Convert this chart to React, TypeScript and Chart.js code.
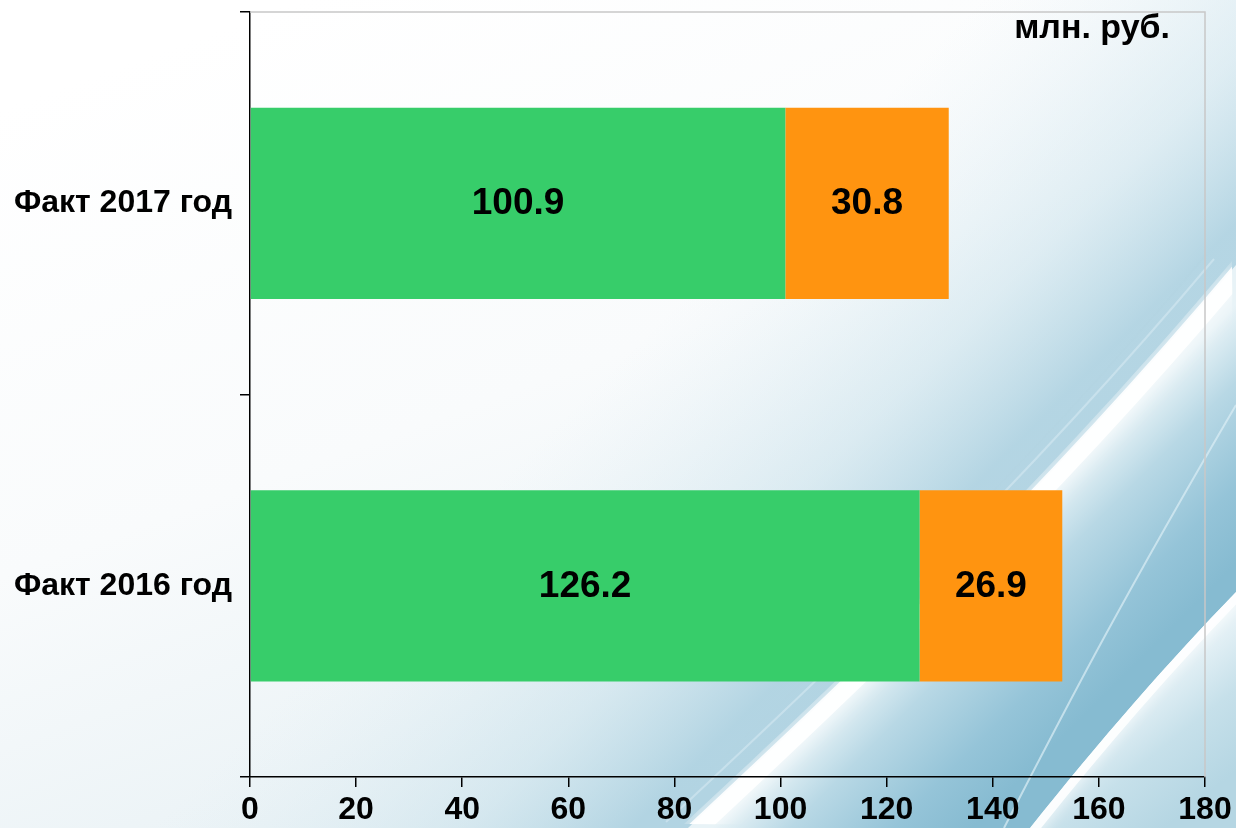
import React, { useEffect, useRef } from "react";
import { Chart, registerables } from "chart.js";

Chart.register(...registerables);

const categories = ["Факт 2017 год", "Факт 2016 год"];
const seriesGreen = [100.9, 126.2];
const seriesOrange = [30.8, 26.9];
const xMin = 0;
const xMax = 180;
const xStep = 20;
const unitLabel = "млн. руб.";

const FONT = "'Liberation Sans', Arial, sans-serif";

function mainCurve(ctx: CanvasRenderingContext2D, dx = 0, dy = 0) {
  ctx.moveTo(688 + dx, 828 + dy);
  ctx.bezierCurveTo(820 + dx, 705 + dy, 1030 + dx, 510 + dy, 1236 + dx, 265 + dy);
}

const backgroundPlugin = {
  id: "bgSwoosh",
  beforeDraw(chart: any) {
    const ctx = chart.ctx as CanvasRenderingContext2D;
    const w = chart.width;
    const h = chart.height;
    ctx.save();
    const g = ctx.createLinearGradient(300, 0, 600, h);
    g.addColorStop(0, "#ffffff");
    g.addColorStop(0.5, "#f9fbfc");
    g.addColorStop(1, "#e6f0f4");
    ctx.fillStyle = g;
    ctx.fillRect(0, 0, w, h);

    // soft haze approaching the main streak
    const hz = ctx.createLinearGradient(880, 580, 640, 340);
    hz.addColorStop(0, "rgba(165,205,222,0.8)");
    hz.addColorStop(0.35, "rgba(190,220,232,0.45)");
    hz.addColorStop(1, "rgba(220,236,243,0)");
    ctx.fillStyle = hz;
    ctx.fillRect(0, 0, w, h);

    // faint lines parallel left of streak
    ctx.save();
    ctx.strokeStyle = "rgba(225,240,246,0.45)";
    ctx.lineWidth = 2;
    ctx.beginPath();
    mainCurve(ctx, -22, -6);
    ctx.stroke();
    ctx.strokeStyle = "rgba(180,212,226,0.3)";
    ctx.beginPath();
    mainCurve(ctx, -30, -10);
    ctx.stroke();
    ctx.restore();

    // blue region right of main streak
    ctx.beginPath();
    mainCurve(ctx);
    ctx.lineTo(w, h);
    ctx.closePath();
    const bg2 = ctx.createLinearGradient(945, 595, 1075, 725);
    bg2.addColorStop(0, "#e8f3f7");
    bg2.addColorStop(0.3, "#b8d8e5");
    bg2.addColorStop(0.7, "#95c4d8");
    bg2.addColorStop(1, "#86bbd1");
    ctx.fillStyle = bg2;
    ctx.fill();

    // main white streak
    ctx.save();
    ctx.beginPath();
    mainCurve(ctx, -4, -4);
    ctx.lineTo(w, h);
    ctx.closePath();
    ctx.clip();
    ctx.shadowColor = "rgba(255,255,255,1)";
    ctx.shadowBlur = 22;
    ctx.strokeStyle = "rgba(255,255,255,0.9)";
    ctx.lineWidth = 18;
    ctx.beginPath();
    mainCurve(ctx, 5, 5);
    ctx.stroke();
    ctx.restore();

    // thin streak
    ctx.save();
    ctx.strokeStyle = "rgba(220,238,245,0.7)";
    ctx.lineWidth = 2;
    ctx.beginPath();
    ctx.moveTo(1004, h);
    ctx.bezierCurveTo(1060, 720, 1110, 620, w, 405);
    ctx.stroke();
    ctx.restore();

    // lower-right region beyond third streak
    ctx.save();
    ctx.beginPath();
    ctx.moveTo(1030, h);
    ctx.bezierCurveTo(1100, 740, 1170, 660, w, 592);
    ctx.lineTo(w, h);
    ctx.closePath();
    const bg3 = ctx.createLinearGradient(1120, 700, 1200, 800);
    bg3.addColorStop(0, "#eaf4f8");
    bg3.addColorStop(0.5, "#c6e0ea");
    bg3.addColorStop(1, "#b5d6e3");
    ctx.fillStyle = bg3;
    ctx.fill();
    ctx.clip();
    ctx.shadowColor = "rgba(255,255,255,1)";
    ctx.shadowBlur = 14;
    ctx.strokeStyle = "rgba(255,255,255,0.85)";
    ctx.lineWidth = 9;
    ctx.beginPath();
    ctx.moveTo(1033, h + 3);
    ctx.bezierCurveTo(1103, 743, 1173, 663, w + 3, 595);
    ctx.stroke();
    ctx.restore();

    ctx.restore();
  },
};

const framePlugin = {
  id: "frameAndLabels",
  afterDraw(chart: any) {
    const ctx = chart.ctx as CanvasRenderingContext2D;
    const a = chart.chartArea;
    ctx.save();
    ctx.strokeStyle = "#c8c8c8";
    ctx.lineWidth = 1.5;
    ctx.beginPath();
    ctx.moveTo(a.left, a.top);
    ctx.lineTo(a.right, a.top);
    ctx.lineTo(a.right, a.bottom);
    ctx.stroke();

    ctx.fillStyle = "#000";
    ctx.font = `bold 34px ${FONT}`;
    ctx.textAlign = "right";
    ctx.textBaseline = "middle";
    ctx.fillText(unitLabel, 1170, 29);
    ctx.restore();
  },
  afterDatasetsDraw(chart: any) {
    const ctx = chart.ctx as CanvasRenderingContext2D;
    ctx.save();
    ctx.fillStyle = "#000";
    ctx.font = `bold 37px ${FONT}`;
    ctx.textAlign = "center";
    ctx.textBaseline = "middle";
    chart.data.datasets.forEach((ds: any, di: number) => {
      const meta = chart.getDatasetMeta(di);
      meta.data.forEach((el: any, i: number) => {
        const v = ds.data[i];
        const cx = (el.x + el.base) / 2;
        ctx.fillText(v.toFixed(1), cx, el.y + 1);
      });
    });
    ctx.restore();
  },
};

export default function App() {
  const ref = useRef<HTMLCanvasElement | null>(null);
  useEffect(() => {
    document.body.style.margin = "0";
    const canvas = ref.current!;
    const chart = new Chart(canvas, {
      type: "bar",
      data: {
        labels: categories,
        datasets: [
          {
            label: "A",
            data: seriesGreen,
            backgroundColor: "#37cd6a",
            borderWidth: 0,
            barPercentage: 0.5,
            categoryPercentage: 1,
          },
          {
            label: "B",
            data: seriesOrange,
            backgroundColor: "#ff9410",
            borderWidth: 0,
            barPercentage: 0.5,
            categoryPercentage: 1,
          },
        ],
      },
      options: {
        indexAxis: "y",
        responsive: false,
        animation: false,
        devicePixelRatio: 1,
        layout: { padding: { top: 12, right: 31, left: 0, bottom: 0 } },
        plugins: {
          legend: { display: false },
          tooltip: { enabled: false },
        },
        scales: {
          x: {
            stacked: true,
            min: xMin,
            max: xMax,
            ticks: {
              stepSize: xStep,
              color: "#000",
              font: { family: FONT, size: 32, weight: "bold" },
              padding: 4,
              maxRotation: 0,
            },
            grid: {
              drawOnChartArea: false,
              drawTicks: true,
              tickLength: 10,
              color: "#000",
              lineWidth: 1.5,
            },
            border: { color: "#000", width: 1.5 },
            afterFit(scale: any) {
              scale.height = 51;
              scale.paddingLeft = 0;
              scale.paddingRight = 0;
            },
          },
          y: {
            stacked: true,
            ticks: {
              color: "#000",
              font: { family: FONT, size: 32, weight: "bold" },
              padding: 8,
            },
            grid: {
              offset: true,
              drawOnChartArea: false,
              drawTicks: true,
              tickLength: 10,
              color: "#000",
              lineWidth: 1.5,
            },
            border: { color: "#000", width: 1.5 },
            afterFit(scale: any) {
              scale.width = 250;
              scale.paddingTop = 0;
              scale.paddingBottom = 0;
            },
          },
        },
      },
      plugins: [backgroundPlugin, framePlugin],
    } as any);
    return () => chart.destroy();
  }, []);
  return (
    <div style={{ width: 1236, height: 828, position: "relative" }}>
      <canvas ref={ref} width={1236} height={828} style={{ display: "block", width: 1236, height: 828 }} />
    </div>
  );
}
